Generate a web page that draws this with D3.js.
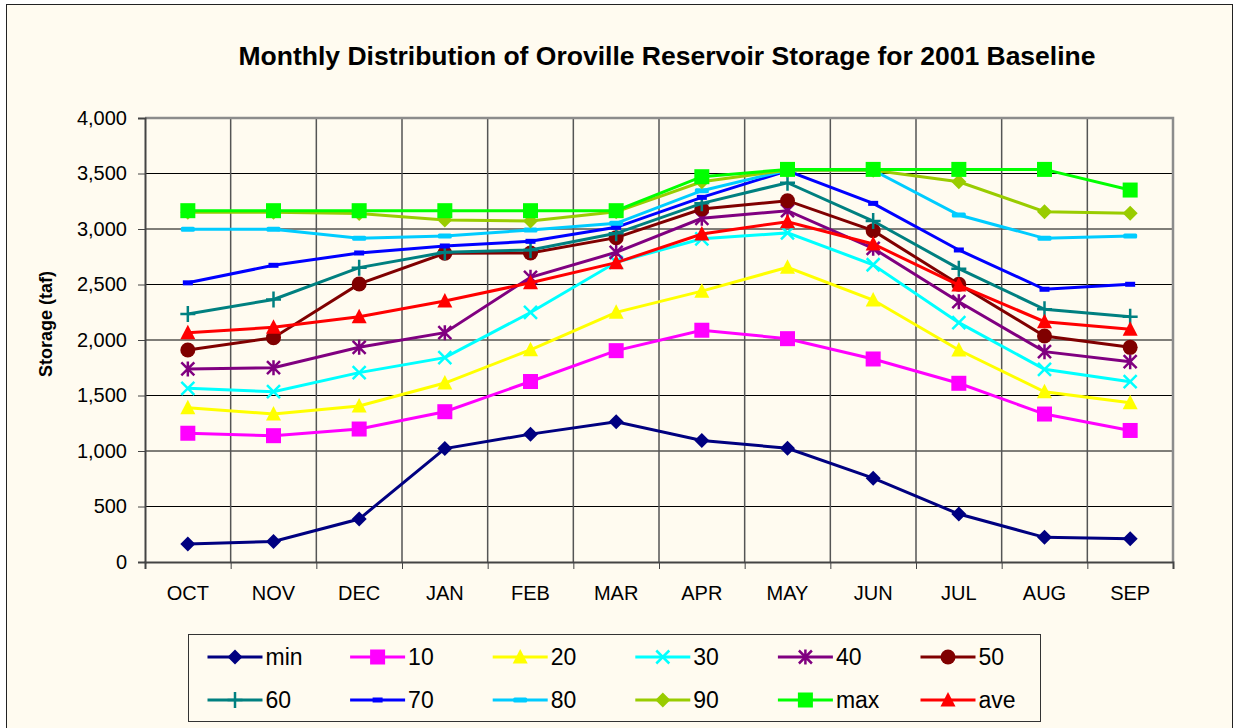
<!DOCTYPE html>
<html>
<head>
<meta charset="utf-8">
<script src="https://cdn.jsdelivr.net/npm/d3@7/dist/d3.min.js"></script>
<style>
  body { margin: 0; background: #ffffff; }
  svg text { font-family: "Liberation Sans", Arial, sans-serif; }
</style>
</head>
<body>
<svg id="chart" width="1233" height="728"></svg>
<script>
// data (taf)
var months = ["OCT","NOV","DEC","JAN","FEB","MAR","APR","MAY","JUN","JUL","AUG","SEP"];
var yTicks = [0, 500, 1000, 1500, 2000, 2500, 3000, 3500, 4000];

var minVals = [162, 185, 387, 1022, 1152, 1263, 1095, 1025, 755, 432, 222, 210];
var p10 = [1160, 1138, 1198, 1354, 1626, 1904, 2088, 2012, 1829, 1610, 1333, 1185];
var p20 = [1390, 1333, 1405, 1612, 1912, 2249, 2440, 2655, 2360, 1910, 1534, 1435];
var p30 = [1565, 1534, 1706, 1841, 2248, 2700, 2912, 2965, 2678, 2156, 1736, 1624];
var p40 = [1739, 1751, 1934, 2066, 2565, 2790, 3096, 3165, 2826, 2345, 1895, 1805];
var p50 = [1910, 2021, 2505, 2781, 2784, 2922, 3180, 3255, 2985, 2502, 2036, 1934];
var p60 = [2234, 2365, 2652, 2790, 2811, 2961, 3231, 3417, 3072, 2643, 2277, 2210];
var p70 = [2515, 2673, 2784, 2847, 2889, 3015, 3285, 3525, 3231, 2811, 2457, 2502];
var p80 = [2997, 2997, 2916, 2937, 2991, 3051, 3345, 3530, 3530, 3126, 2916, 2937];
var p90 = [3150, 3150, 3140, 3081, 3072, 3155, 3426, 3530, 3530, 3426, 3156, 3141];
var maxVals = [3165, 3165, 3165, 3165, 3165, 3165, 3471, 3537, 3537, 3537, 3537, 3351];
var aveVals = [2066, 2114, 2210, 2351, 2516, 2697, 2955, 3066, 2865, 2495, 2165, 2096];

var seriesNames = ["min","10","20","30","40","50","60","70","80","90","max","ave"];
var seriesColors = ["#000080","#ff00ff","#ffff00","#00ffff","#800080","#800000",
                    "#008080","#0000ff","#00ccff","#99cc00","#00ff00","#ff0000"];
var seriesMarkers = ["diamond","square","triangle","x","star","circle",
                     "plus","smallrect","dash","diamond","square","triangle"];
var seriesValues = [minVals, p10, p20, p30, p40, p50, p60, p70, p80, p90, maxVals, aveVals];

var svg = d3.select("#chart");

// chart area
svg.append("rect")
  .attr("x", 6.5).attr("y", 4.5)
  .attr("width", 1226).attr("height", 740)
  .attr("fill", "#fffbf0")
  .attr("stroke", "#222").attr("stroke-width", 1);

var plotL = 145, plotR = 1173, plotT = 118, plotB = 562;

var x = d3.scaleBand().domain(months).range([plotL, plotR]);
var xEdge = d3.scaleLinear().domain([0, months.length]).range([plotL, plotR]);
var y = d3.scaleLinear().domain([0, 4000]).range([plotB, plotT]);
var cx = function(m) { return x(m) + x.bandwidth() / 2; };

// gridlines
svg.append("g").selectAll("line")
  .data(yTicks.slice(1))
  .join("line")
  .attr("x1", plotL).attr("x2", plotR)
  .attr("y1", function(d) { return y(d); })
  .attr("y2", function(d) { return y(d); })
  .attr("stroke", "#000").attr("stroke-width", 1);

svg.append("g").selectAll("line")
  .data(d3.range(1, months.length))
  .join("line")
  .attr("x1", function(d) { return xEdge(d); })
  .attr("x2", function(d) { return xEdge(d); })
  .attr("y1", plotT).attr("y2", plotB)
  .attr("stroke", "#555").attr("stroke-width", 1.5);

// plot frame (top and right in grey)
svg.append("path")
  .attr("d", "M" + plotL + "," + plotT + "H" + plotR + "V" + plotB)
  .attr("fill", "none").attr("stroke", "#8c8c8c").attr("stroke-width", 2.5);

// axes
var yAxis = svg.append("g")
  .attr("transform", "translate(" + plotL + ",0)")
  .call(d3.axisLeft(y).tickValues(yTicks).tickFormat(d3.format(",")).tickSize(7).tickPadding(11));
yAxis.select(".domain").attr("stroke", "#444").attr("stroke-width", 2);
yAxis.selectAll(".tick line").attr("stroke", "#444");
yAxis.selectAll("text").attr("font-size", 20).attr("fill", "#000")
  .style("font-family", "'Liberation Sans', Arial, sans-serif");

var xTickAxis = svg.append("g")
  .attr("transform", "translate(0," + plotB + ")")
  .call(d3.axisBottom(xEdge).tickValues(d3.range(0, months.length + 1)).tickFormat("").tickSize(7));
xTickAxis.select(".domain").attr("stroke", "#444").attr("stroke-width", 2);
xTickAxis.selectAll(".tick line").attr("stroke", "#444");

var xAxis = svg.append("g")
  .attr("transform", "translate(0," + plotB + ")")
  .call(d3.axisBottom(x).tickSize(0).tickPadding(24));
xAxis.select(".domain").remove();
xAxis.selectAll("text").attr("font-size", 20).attr("fill", "#000")
  .style("font-family", "'Liberation Sans', Arial, sans-serif");

// titles
svg.append("text")
  .attr("x", 667).attr("y", 65)
  .attr("text-anchor", "middle")
  .attr("font-size", 26.5).attr("font-weight", "bold")
  .text("Monthly Distribution of Oroville Reservoir Storage for 2001 Baseline");

svg.append("text")
  .attr("transform", "translate(52,324) rotate(-90)")
  .attr("text-anchor", "middle")
  .attr("font-size", 18).attr("font-weight", "bold")
  .text("Storage (taf)");

// marker drawing
function drawMarker(g, type, color) {
  switch (type) {
    case "diamond":
      g.append("path").attr("d", "M0,-7.5L7.5,0L0,7.5L-7.5,0Z").attr("fill", color);
      break;
    case "square":
      g.append("rect").attr("x", -7.5).attr("y", -7.5).attr("width", 15).attr("height", 15).attr("fill", color);
      break;
    case "triangle":
      g.append("path").attr("d", "M0,-8L7.5,6.5L-7.5,6.5Z").attr("fill", color);
      break;
    case "circle":
      g.append("circle").attr("r", 7.5).attr("fill", color);
      break;
    case "x":
      g.append("path").attr("d", "M-6.5,-6.5L6.5,6.5M-6.5,6.5L6.5,-6.5")
        .attr("stroke", color).attr("stroke-width", 2.5).attr("fill", "none");
      break;
    case "star":
      g.append("path").attr("d", "M-6.5,-6.5L6.5,6.5M-6.5,6.5L6.5,-6.5M0,-7.5L0,7.5")
        .attr("stroke", color).attr("stroke-width", 2.5).attr("fill", "none");
      break;
    case "plus":
      g.append("path").attr("d", "M-7.5,0L7.5,0M0,-8L0,8")
        .attr("stroke", color).attr("stroke-width", 2.5).attr("fill", "none");
      break;
    case "smallrect":
      g.append("rect").attr("x", -5).attr("y", -2.5).attr("width", 10).attr("height", 5).attr("fill", color);
      break;
    case "dash":
      g.append("rect").attr("x", -7).attr("y", -2.5).attr("width", 14).attr("height", 5)
        .attr("rx", 1.5).attr("fill", color);
      break;
  }
}

// series
var line = d3.line()
  .x(function(d, i) { return cx(months[i]); })
  .y(function(d) { return y(d); });

seriesValues.forEach(function(vals, s) {
  var g = svg.append("g");
  g.append("path")
    .attr("d", line(vals))
    .attr("fill", "none")
    .attr("stroke", seriesColors[s])
    .attr("stroke-width", 3);
  vals.forEach(function(v, i) {
    var mg = g.append("g").attr("transform", "translate(" + cx(months[i]) + "," + y(v) + ")");
    drawMarker(mg, seriesMarkers[s], seriesColors[s]);
  });
});

// legend
var legend = svg.append("g");
legend.append("rect")
  .attr("x", 188.5).attr("y", 634.5)
  .attr("width", 852).attr("height", 87)
  .attr("fill", "#fffbf0").attr("stroke", "#333").attr("stroke-width", 1);

seriesNames.forEach(function(name, s) {
  var col = s % 6, row = Math.floor(s / 6);
  var lx = 207.5 + col * 142.6, ly = 657 + row * 43;
  var item = legend.append("g").attr("transform", "translate(" + lx + "," + ly + ")");
  item.append("line").attr("x1", 0).attr("x2", 55).attr("y1", 0).attr("y2", 0)
    .attr("stroke", seriesColors[s]).attr("stroke-width", 3);
  drawMarker(item.append("g").attr("transform", "translate(27.5,0)"), seriesMarkers[s], seriesColors[s]);
  item.append("text").attr("x", 58).attr("y", 8)
    .attr("font-size", 23).attr("fill", "#000")
    .text(name);
});
</script>
</body>
</html>
